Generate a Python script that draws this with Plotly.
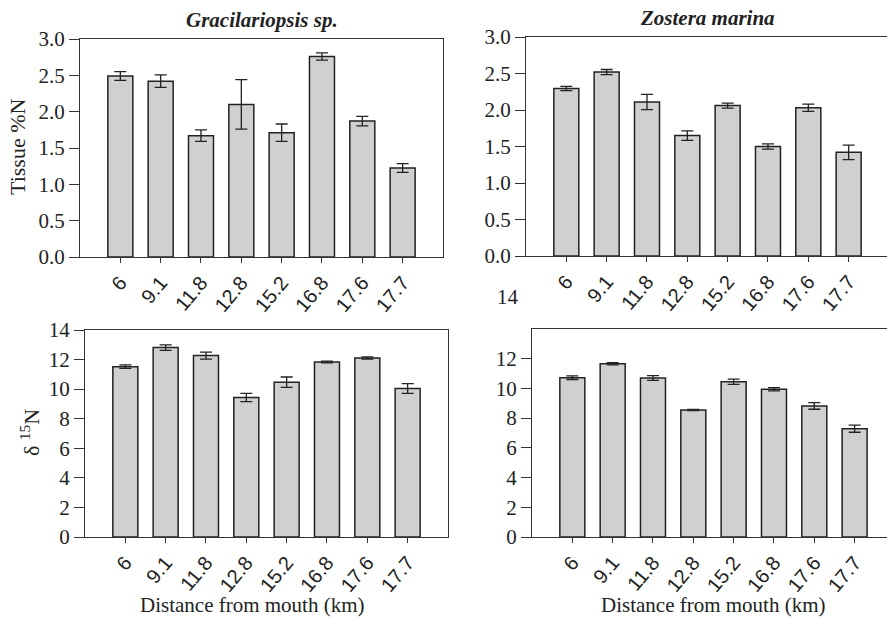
import plotly.graph_objects as go

W, H = 887, 618

categories = ["6", "9.1", "11.8", "12.8", "15.2", "16.8", "17.6", "17.7"]

graci_pctN = [2.49, 2.42, 1.67, 2.10, 1.71, 2.76, 1.87, 1.225]
graci_pctN_err = [0.06, 0.085, 0.08, 0.34, 0.12, 0.05, 0.065, 0.06]

zostera_pctN = [2.295, 2.52, 2.11, 1.65, 2.06, 1.50, 2.03, 1.42]
zostera_pctN_err = [0.03, 0.035, 0.105, 0.065, 0.035, 0.035, 0.05, 0.10]

graci_d15N = [11.52, 12.81, 12.27, 9.43, 10.47, 11.84, 12.11, 10.04]
graci_d15N_err = [0.12, 0.19, 0.24, 0.28, 0.35, 0.06, 0.07, 0.33]

zostera_d15N = [10.72, 11.66, 10.70, 8.55, 10.45, 9.94, 8.82, 7.29]
zostera_d15N_err = [0.12, 0.07, 0.16, 0.045, 0.18, 0.11, 0.22, 0.24]

pct_ticks = [0.0, 0.5, 1.0, 1.5, 2.0, 2.5, 3.0]
pct_ticktext = ["0.0", "0.5", "1.0", "1.5", "2.0", "2.5", "3.0"]
d15_ticks_left = [0, 2, 4, 6, 8, 10, 12, 14]
d15_ticks_right = [0, 2, 4, 6, 8, 10, 12]

BAR_FILL = "#cfd0d2"
INK = "#222222"
AXC = "#333333"
SERIF = "Liberation Serif, Times New Roman, serif"
SANS = "Liberation Sans, Arial, sans-serif"
SPACING = 40.33

# panel geometry in pixels: (left, right, top, bottom)
panels = [
    (80, 443, 39, 257),
    (526, 887, 37, 256),
    (85, 448, 330, 537),
    (532, 887, 329, 537),
]

fig = go.Figure()
series = [
    (graci_pctN, graci_pctN_err),
    (zostera_pctN, zostera_pctN_err),
    (graci_d15N, graci_d15N_err),
    (zostera_d15N, zostera_d15N_err),
]

for i, (vals, errs) in enumerate(series):
    xa = "x" if i == 0 else f"x{i+1}"
    ya = "y" if i == 0 else f"y{i+1}"
    fig.add_trace(go.Bar(
        x=list(range(len(categories))), y=vals,
        error_y=dict(type="data", array=errs, visible=True, color=INK,
                     thickness=1.3, width=6),
        marker=dict(color=BAR_FILL, line=dict(color=INK, width=1.5)),
        width=0.62, xaxis=xa, yaxis=ya, showlegend=False,
        hoverinfo="skip",
    ))

layout = dict(
    width=W, height=H, margin=dict(l=0, r=0, t=0, b=0, autoexpand=False),
    paper_bgcolor="white", plot_bgcolor="white", showlegend=False,
)

for i, (l, r, t, b) in enumerate(panels):
    xk = "xaxis" if i == 0 else f"xaxis{i+1}"
    yk = "yaxis" if i == 0 else f"yaxis{i+1}"
    yanchor = "y" if i == 0 else f"y{i+1}"
    xanchor = "x" if i == 0 else f"x{i+1}"
    span = (r - l) / SPACING
    full_frame = i in (0, 2)
    layout[xk] = dict(
        domain=[l / W, r / W], anchor=yanchor,
        range=[-1, -1 + span], automargin=False,
        tickmode="array", tickvals=list(range(len(categories))),
        ticktext=categories, tickangle=-50,
        tickfont=dict(family=SANS, size=20, color=INK),
        ticks="outside", ticklen=5, tickwidth=1.3, tickcolor=AXC,
        showline=True, linecolor=AXC, linewidth=1.3,
        mirror=True, showgrid=False, zeroline=False,
    )
    if i < 2:
        ytv, ytt, yr = pct_ticks, pct_ticktext, [0, 3.0]
    elif i == 2:
        ytv, ytt, yr = d15_ticks_left, [str(v) for v in d15_ticks_left], [0, 14]
    else:
        ytv, ytt, yr = d15_ticks_right, [str(v) for v in d15_ticks_right], [0, 14]
    layout[yk] = dict(
        domain=[1 - b / H, 1 - t / H], anchor=xanchor,
        range=yr, automargin=False, tickmode="array", tickvals=ytv, ticktext=ytt,
        tickfont=dict(family=SERIF, size=21, color=INK),
        ticks="outside", ticklen=10, tickwidth=1.3, tickcolor=AXC,
        showline=True, linecolor=AXC, linewidth=1.3,
        mirror=full_frame, showgrid=False, zeroline=False,
    )

fig.update_layout(**layout)

annotations = [
    dict(text="<b><i>Gracilariopsis sp.</i></b>", x=262 / W, y=1 - 20 / H, size=21),
    dict(text="<b><i>Zostera marina</i></b>", x=707 / W, y=1 - 18 / H, size=21),
    dict(text="Distance from mouth (km)", x=253 / W, y=1 - 605 / H),
    dict(text="Distance from mouth (km)", x=713 / W, y=1 - 605 / H),
    dict(text="14", x=508 / W, y=1 - 297 / H, size=21),
]
for a in annotations:
    fig.add_annotation(
        text=a["text"], x=a["x"], y=a["y"], xref="paper", yref="paper",
        xanchor="center", yanchor="middle", showarrow=False,
        font=dict(family=SERIF, size=a.get("size", 21), color=INK),
    )

fig.add_annotation(
    text="Tissue %N", x=17 / W, y=1 - 147 / H, xref="paper", yref="paper",
    xanchor="center", yanchor="middle", showarrow=False, textangle=-90,
    font=dict(family=SERIF, size=22, color=INK),
)
fig.add_annotation(
    text="δ <sup>15</sup>N", x=30 / W, y=1 - 433 / H, xref="paper", yref="paper",
    xanchor="center", yanchor="middle", showarrow=False, textangle=-90,
    font=dict(family=SERIF, size=22, color=INK),
)

fig.write_html(
    "out.html",
    config={"displayModeBar": False},
    post_script="document.body.style.margin='0px';document.body.style.overflow='hidden';",
)
